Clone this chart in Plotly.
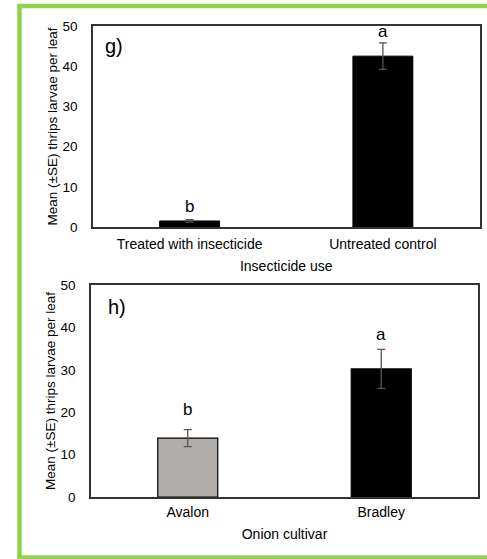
import plotly.graph_objects as go

# Panel g
g_categories = ["Treated with insecticide", "Untreated control"]
g_means = [1.5, 42.5]
g_se = [0.3, 3.3]
g_letters = ["b", "a"]
g_letter_y = [5.0, 48.6]

# Panel h
h_categories = ["Avalon", "Bradley"]
h_means = [13.9, 30.2]
h_se = [2.0, 4.6]
h_letters = ["b", "a"]
h_letter_y = [20.7, 38.3]

y_ticks = [0, 10, 20, 30, 40, 50]

FONT = "Liberation Sans, Arial, sans-serif"
W, H = 487, 559
ML, MR, MT, MB = 91, 7, 26, 62
PW, PH = W - ML - MR, H - MT - MB


def px_x(p):
    return (p - ML) / PW


def px_y(p):
    return (H - MB - p) / PH


fig = go.Figure()

fig.add_trace(go.Bar(
    x=g_categories, y=g_means, width=0.31,
    marker=dict(color="#000000", line=dict(color="#000000", width=1)),
    error_y=dict(type="data", array=g_se, color="#555555", thickness=1.3, width=4),
    xaxis="x", yaxis="y", showlegend=False))

fig.add_trace(go.Bar(
    x=h_categories, y=h_means, width=0.31,
    marker=dict(color=["#b1adab", "#000000"], line=dict(color="#000000", width=1.2)),
    error_y=dict(type="data", array=h_se, color="#555555", thickness=1.3, width=4),
    xaxis="x2", yaxis="y2", showlegend=False))

annotations = []
for c, t, yv in zip(g_categories, g_letters, g_letter_y):
    annotations.append(dict(x=c, y=yv, xref="x", yref="y", text=t, showarrow=False,
                            font=dict(size=17, color="#000000", family=FONT)))
for c, t, yv in zip(h_categories, h_letters, h_letter_y):
    annotations.append(dict(x=c, y=yv, xref="x2", yref="y2", text=t, showarrow=False,
                            font=dict(size=17, color="#000000", family=FONT)))
annotations.append(dict(x=0.026, y=0.9, xref="x domain", yref="y domain", text="g)",
                        showarrow=False, xanchor="left", yanchor="middle",
                        font=dict(size=20, color="#000000", family=FONT)))
annotations.append(dict(x=0.038, y=0.896, xref="x2 domain", yref="y2 domain", text="h)",
                        showarrow=False, xanchor="left", yanchor="middle",
                        font=dict(size=20, color="#000000", family=FONT)))

axis_common = dict(showline=True, linecolor="#333333", linewidth=1.5, mirror=True,
                   showgrid=False, zeroline=False, ticks="")

ytitle = "Mean (\u00b1SE) thrips larvae per leaf"
xfont = dict(size=14, color="#000000", family=FONT)
yfont = dict(size=13.5, color="#000000", family=FONT)

green = dict(color="#92d050", width=4.5)
border = [
    dict(type="line", xref="paper", yref="paper", x0=px_x(17.5), x1=px_x(490), y0=px_y(6), y1=px_y(6), line=green),
    dict(type="line", xref="paper", yref="paper", x0=px_x(19.5), x1=px_x(19.5), y0=px_y(4), y1=px_y(559), line=green),
    dict(type="line", xref="paper", yref="paper", x0=px_x(17.5), x1=px_x(490), y0=px_y(557.5), y1=px_y(557.5), line=green),
]

fig.update_layout(
    width=W, height=H,
    margin=dict(l=ML, r=MR, t=MT, b=MB),
    paper_bgcolor="white", plot_bgcolor="white",
    xaxis=dict(domain=[px_x(93), px_x(479.5)], anchor="y",
               title=dict(text="Insecticide use", standoff=11, font=xfont),
               tickfont=xfont, ticklabelstandoff=3, **axis_common),
    yaxis=dict(domain=[px_y(227), 1.0], anchor="x", range=[0, 50], tickvals=y_ticks,
               tickfont=yfont, ticklabelstandoff=11,
               title=dict(text=ytitle, standoff=2, font=yfont),
               **axis_common),
    xaxis2=dict(domain=[0.0, px_x(478)], anchor="y2",
                title=dict(text="Onion cultivar", standoff=11, font=xfont),
                tickfont=xfont, ticklabelstandoff=1, **axis_common),
    yaxis2=dict(domain=[0.0, px_y(285)], anchor="x2", range=[0, 50], tickvals=y_ticks,
                tickfont=yfont, ticklabelstandoff=11,
                title=dict(text=ytitle, standoff=2, font=yfont),
                **axis_common),
    annotations=annotations,
    shapes=border,
)

fig.write_html("out.html", config={"displayModeBar": False},
               post_script="document.body.style.margin='0';document.body.style.overflow='hidden';")
